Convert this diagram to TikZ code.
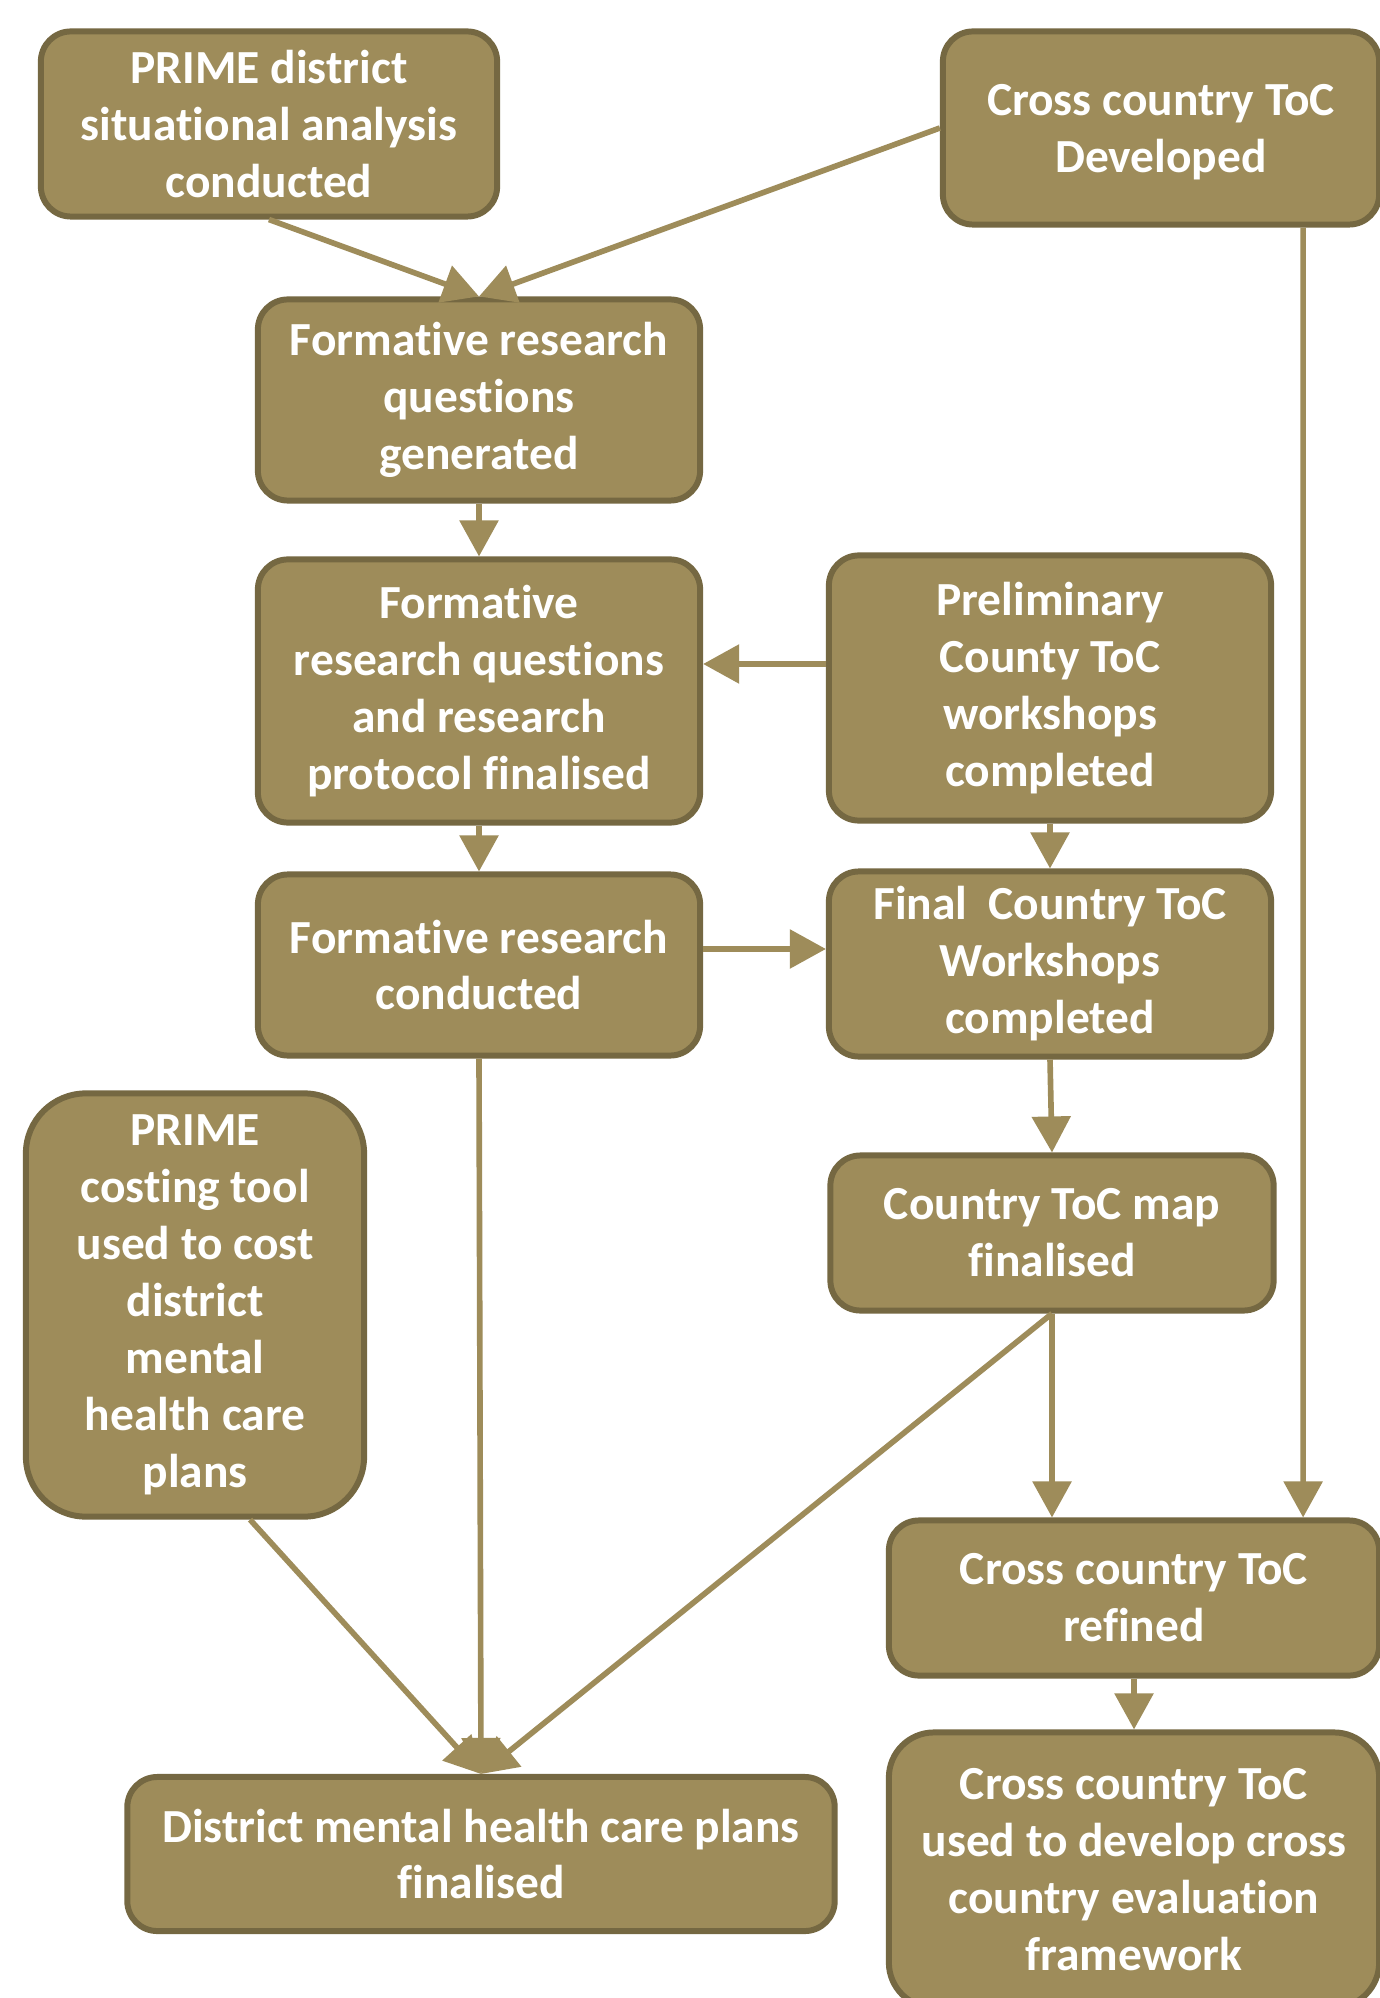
\documentclass[tikz,border=0pt]{standalone}
\usepackage{fontspec}
\setmainfont{Carlito}[Ligatures=NoCommon]
\usepackage{xcolor}
\usepackage{tikz}
\usetikzlibrary{arrows.meta, positioning}

\definecolor{boxfill}{RGB}{158,140,90}
\definecolor{boxline}{RGB}{117,104,66}

\begin{document}
\begin{tikzpicture}[
    x=0.01cm, y=-0.01cm,
    block/.style={rectangle, draw=boxline, fill=boxfill, line width=1.7pt, rounded corners=0.3cm, text=white, align=center, inner sep=0pt, font=\fontsize{13.5}{16.2}\selectfont\bfseries},
    arrow/.style={draw=boxfill, line width=1.6pt, -{Triangle[width=0.38cm, length=0.36cm]}}
]
\fill[white] (0,0) rectangle (1380,1998);
\useasboundingbox (0,0) rectangle (1380,1998);

% Top row
\node [block, minimum width=4.56cm, minimum height=1.85cm] (sitan) at (269,124) {PRIME district\\situational analysis\\conducted};
\node [block, minimum width=4.36cm, minimum height=1.93cm, text depth=0pt] (cdev) at (1161,128) {Cross country ToC\\Developed};

% Formative research column
\node [block, minimum width=4.42cm, minimum height=2.01cm] (fqgen) at (479,400) {Formative research\\questions\\generated};
\node [block, minimum width=4.42cm, minimum height=2.63cm] (fqprot) at (479,691) {Formative\\research questions\\and research\\protocol finalised};
\node [block, minimum width=4.42cm, minimum height=1.81cm] (fconduct) at (479,965) {Formative research\\conducted};

% Country ToC column
\node [block, minimum width=4.42cm, minimum height=2.65cm] (prelim) at (1050,688) {Preliminary\\County ToC\\workshops\\completed};
\node [block, minimum width=4.42cm, minimum height=1.85cm] (final) at (1050,964) {Final\ \ Country ToC\\Workshops\\completed};
\node [block, minimum width=4.43cm, minimum height=1.55cm] (map) at (1052,1233) {Country ToC map\\finalised};

% Bottom part
\node [block, rounded corners=0.6cm, minimum width=3.38cm, minimum height=4.23cm] (costing) at (195,1305) {PRIME\\costing tool\\used to cost\\district\\mental\\health care\\plans};
\node [block, minimum width=4.90cm, minimum height=1.55cm] (refined) at (1134,1598) {Cross country ToC\\refined};
\node [block, minimum width=7.07cm, minimum height=1.54cm] (dplan) at (481,1854) {District mental health care plans\\finalised};
\node [block, rounded corners=0.45cm, minimum width=4.90cm, minimum height=2.75cm] (ccuse) at (1134,1870) {Cross country ToC\\used to develop cross\\country evaluation\\framework};

% Connectors
\draw [arrow] (sitan.south) -- (fqgen.north);
\draw [arrow] (cdev.west) -- (fqgen.north);
\draw [arrow] ([xshift=-0.79cm]cdev.south east) -- ([xshift=-0.79cm]refined.north east);
\draw [arrow] (fqgen.south) -- (fqprot.north);
\draw [arrow] ([yshift=0.24cm]prelim.west) -- ([yshift=0.24cm]prelim.west -| fqprot.east);
\draw [arrow] (fqprot.south) -- (fconduct.north);
\draw [arrow] (prelim.south) -- (final.north);
\draw [arrow] ([yshift=0.16cm]fconduct.east) -- ([yshift=0.16cm]fconduct.east -| final.west);
\draw [arrow] (final.south) -- (map.north);
\draw [arrow] (fconduct.south) -- (dplan.north);
\draw [arrow] ([xshift=0.55cm]costing.south) -- (dplan.north);
\draw [arrow] (map.south) -- (dplan.north);
\draw [arrow] (map.south) -- (map.south |- refined.north);
\draw [arrow] (refined.south) -- (ccuse.north);
\end{tikzpicture}
\end{document}
